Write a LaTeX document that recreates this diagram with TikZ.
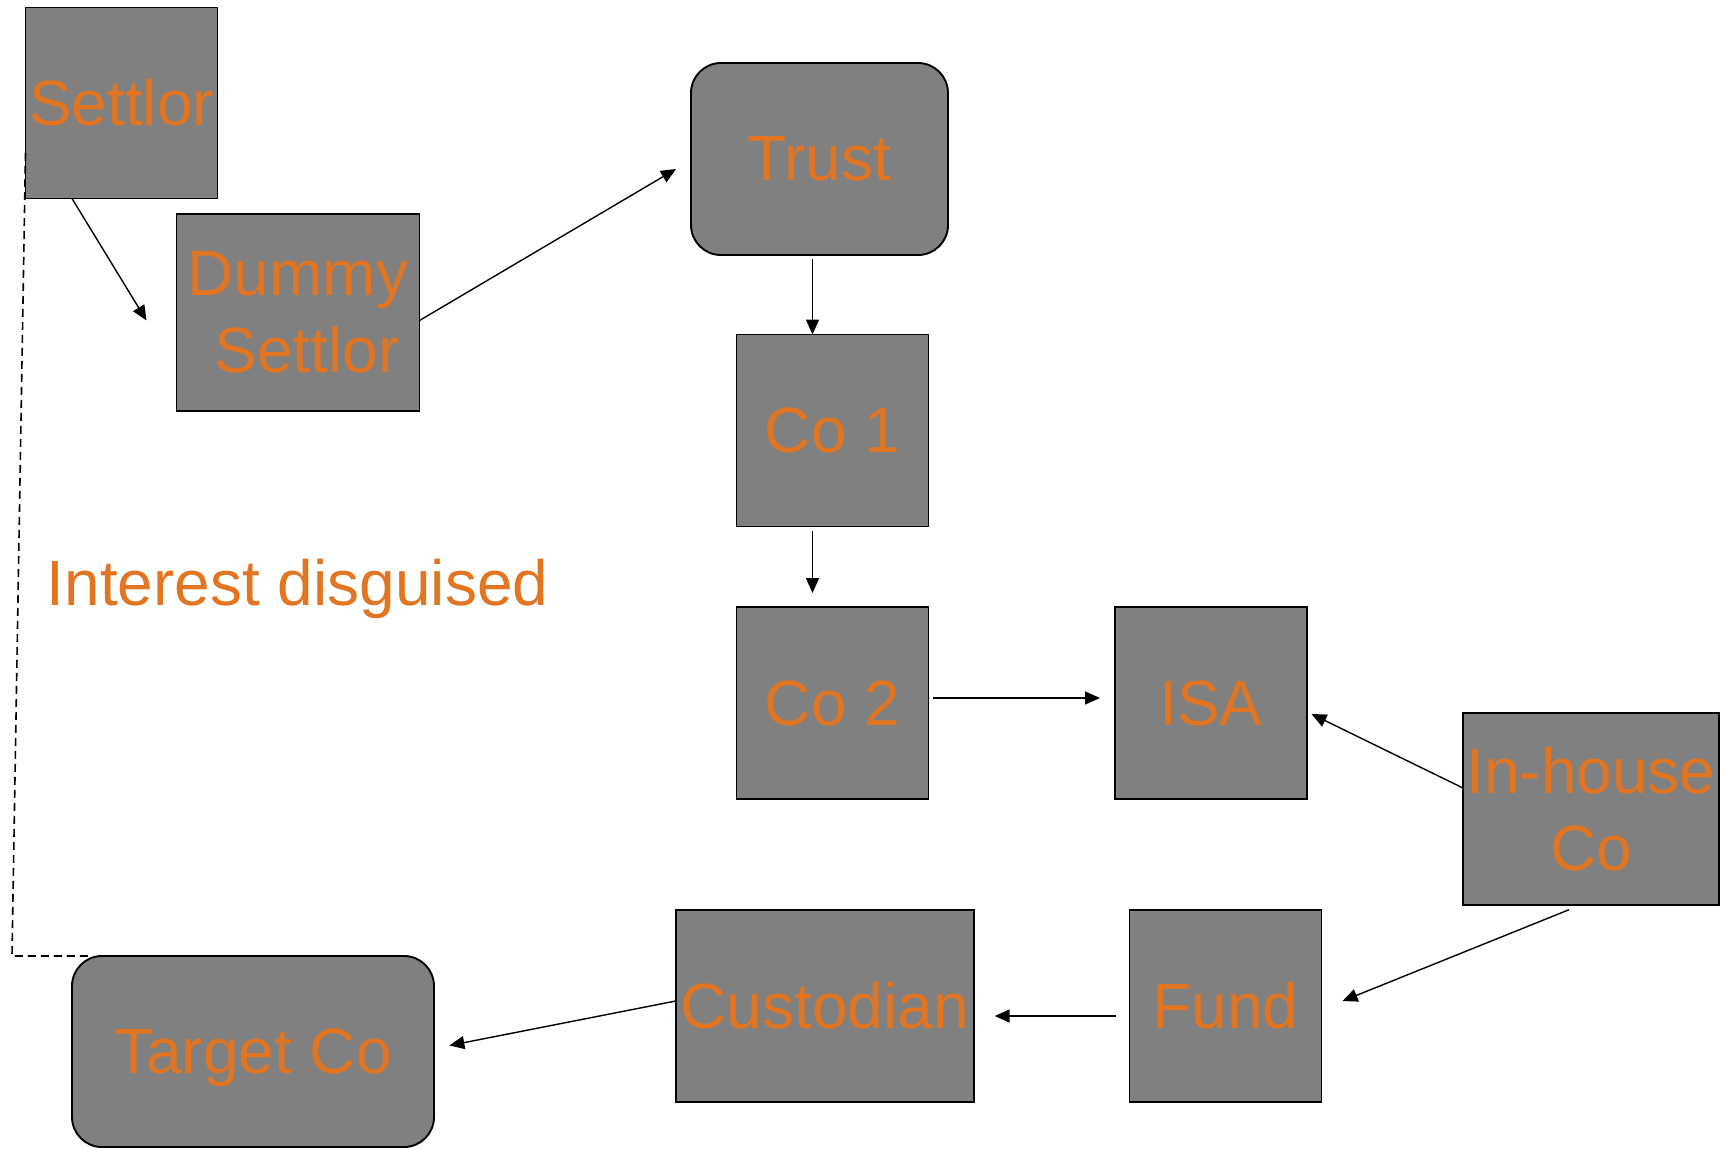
\documentclass[tikz,border=0pt]{standalone}
\usepackage{fontspec}
\setmainfont{Liberation Sans}
\usetikzlibrary{arrows.meta,calc}
\definecolor{boxgray}{HTML}{808080}
\definecolor{labelorange}{HTML}{E27521}
\begin{document}
\begin{tikzpicture}[x=0.5pt,y=-0.5pt,
  entity/.style={draw=black,line width=0.95pt,fill=boxgray,text=labelorange,
    inner sep=0pt,outer sep=0pt,align=center,
    font=\fontsize{32}{38.5}\selectfont},
  roundentity/.style={entity,rounded corners=15pt},
  flow/.style={-{Triangle[length=7.5pt,width=6.5pt]},line width=0.7pt,black},
  link/.style={dash pattern=on 4pt off 2.5pt,line width=0.8pt,black}]
\useasboundingbox (0,0) rectangle (1731,1148);

% entities
\node[entity,minimum width=96pt,minimum height=95.5pt] (settlor) at (121.5,103) {Settlor};
\node[entity,minimum width=121.5pt,minimum height=98.5pt] (dummy) at (298,312.5) {Dummy\\\hspace*{0.278em}Settlor};
\node[roundentity,minimum width=128.5pt,minimum height=96pt] (trust) at (819.5,159) {Trust};
\node[entity,minimum width=96pt,minimum height=96pt] (co1) at (832.5,430.5) {Co 1};
\node[entity,minimum width=96pt,minimum height=96pt] (co2) at (832.5,703) {Co 2};
\node[entity,minimum width=96pt,minimum height=96pt] (isa) at (1211,703) {ISA};
\node[entity,minimum width=128pt,minimum height=96pt] (inhouse) at (1591,809) {In-house\\Co};
\node[entity,minimum width=96pt,minimum height=96pt] (fund) at (1225.5,1006) {Fund};
\node[entity,minimum width=149pt,minimum height=96pt] (custodian) at (824.7,1006) {Custodian};
\node[roundentity,minimum width=181pt,minimum height=95.5pt,text depth=0pt] (target) at (253,1051.5) {Target Co};

% free label
\node[anchor=base west,inner sep=0pt,text=labelorange,font=\fontsize{32}{38.5}\selectfont] (note) at (46.4,605) {Interest disguised};

% ownership flow
\draw[flow] ($(settlor.south)+(-49.5,0)$) -- ($(dummy.west)+(-30,8)$);
\draw[flow] ($(dummy.east)+(0,8)$) -- ($(trust.west)+(-15,10)$);
\draw[flow] ($(trust.south)+(-7,4)$) -- ($(co1.north)+(-20,0)$);
\draw[flow] ($(co1.south)+(-20,4.5)$) -- ($(co2.north)+(-20,-14)$);
\draw[flow] ($(co2.east)+(4.5,-5)$) -- ($(isa.west)+(-15,-5)$);
\draw[flow] ($(inhouse.west)+(0,-21)$) -- ($(isa.east)+(4.5,11)$);
\draw[flow] ($(inhouse.south)+(-22,4.7)$) -- ($(fund.east)+(21,-5)$);
\draw[flow] ($(fund.west)+(-14,10)$) -- ($(custodian.east)+(21,10)$);
\draw[flow] ($(custodian.west)+(0,-5)$) -- ($(target.east)+(15.4,-6)$);

% disguised interest link
\coordinate (bend) at ($(target.north west)+(-60,0)$);
\draw[link] ($(settlor.west)+(0,50)$) -- (bend) -- ($(target.north west)+(16,0)$);
\end{tikzpicture}
\end{document}
